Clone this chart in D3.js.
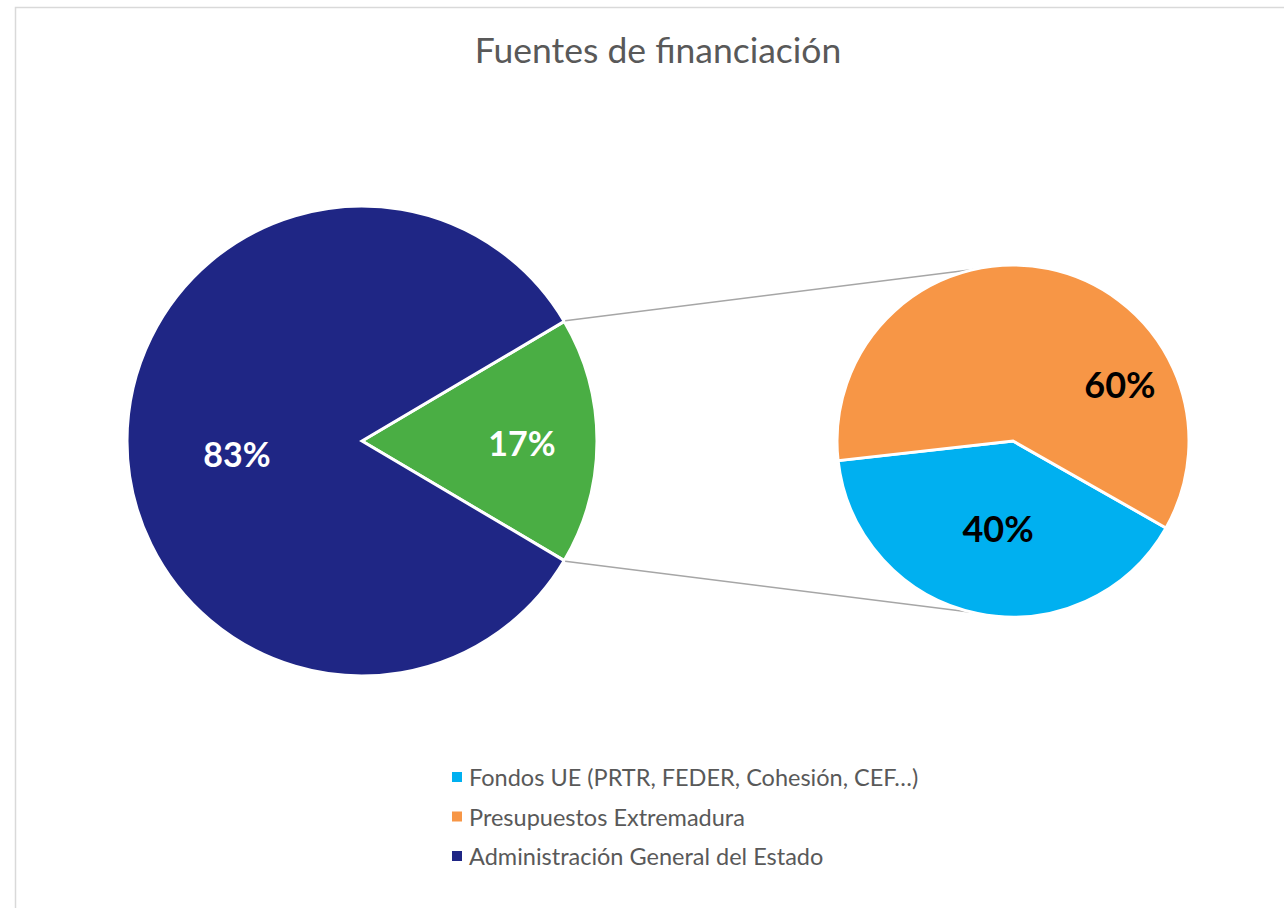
<!DOCTYPE html>
<html>
<head>
<meta charset="utf-8">
<script src="https://cdn.jsdelivr.net/npm/d3@7"></script>
<style>
  body { margin: 0; background: #fff; }
  text { font-family: Lato, "Open Sans", sans-serif; }
</style>
</head>
<body>
<div class="canva"></div>
<script>
// data
const mainLabels = ['Otros', 'Administración General del Estado'];
const mainValues = [17, 83];
const mainColors = ['#4aae44', '#1f2685'];

const subLabels = ['Fondos UE (PRTR, FEDER, Cohesión, CEF…)', 'Presupuestos Extremadura'];
const subValues = [40, 60];
const subColors = ['#00b0f0', '#f79646'];

const legendLabels = ['Fondos UE (PRTR, FEDER, Cohesión, CEF…)', 'Presupuestos Extremadura', 'Administración General del Estado'];
const legendColors = ['#00b0f0', '#f79646', '#1f2685'];

const title = 'Fuentes de financiación';

const width = 1284, height = 908;
const deg = Math.PI / 180;

const svg = d3.select('.canva').append('svg')
    .attr('width', width)
    .attr('height', height);

// chart area border (right/bottom fall outside)
svg.append('rect')
    .attr('x', 15.5).attr('y', 7.5)
    .attr('width', 1400).attr('height', 1000)
    .attr('fill', 'none')
    .attr('stroke', '#d9d9d9')
    .attr('stroke-width', 1.5);

svg.append('text')
    .attr('x', 658).attr('y', 63)
    .attr('text-anchor', 'middle')
    .attr('font-size', 35.5)
    .attr('fill', '#595959')
    .text(title);

// main pie
const main = {cx: 362, cy: 441, r: 235};
const mainTotal = d3.sum(mainValues);
const greenSpan = mainValues[0] / mainTotal * 2 * Math.PI;
const mainPie = d3.pie().sort(null)
    .startAngle(Math.PI / 2 - greenSpan / 2)
    .endAngle(Math.PI / 2 - greenSpan / 2 + 2 * Math.PI);
const mainArcs = mainPie(mainValues);
const mainArc = d3.arc().innerRadius(0).outerRadius(main.r);

const gMain = svg.append('g').attr('transform', `translate(${main.cx}, ${main.cy})`);
gMain.selectAll('path')
    .data(mainArcs)
    .enter().append('path')
    .attr('d', mainArc)
    .attr('fill', (d, i) => mainColors[i])
    .attr('stroke', '#fff')
    .attr('stroke-width', 3)
    .attr('stroke-linejoin', 'miter');

// main labels
const mainLabelPos = [[160, 1], [-125, 12]];
gMain.selectAll('text.lbl')
    .data(mainArcs)
    .enter().append('text')
    .attr('class', 'lbl')
    .attr('x', (d, i) => mainLabelPos[i][0])
    .attr('y', (d, i) => mainLabelPos[i][1])
    .attr('text-anchor', 'middle')
    .attr('dominant-baseline', 'central')
    .attr('font-size', 34)
    .attr('font-weight', 'bold')
    .attr('fill', '#fff')
    .text(d => Math.round(d.value / mainTotal * 100) + '%');

// secondary pie
const sub = {cx: 1013, cy: 441, r: 176};
const subTotal = d3.sum(subValues);
const subStart = 119.6 * deg;
const subPie = d3.pie().sort(null)
    .startAngle(subStart)
    .endAngle(subStart + 2 * Math.PI);
const subArcs = subPie(subValues);
const subArc = d3.arc().innerRadius(0).outerRadius(sub.r);

// connector lines
const a1 = mainArcs[0].startAngle, a2 = mainArcs[0].endAngle;
const ptOn = (c, a, r) => [c.cx + r * Math.sin(a), c.cy - r * Math.cos(a)];
const conn = [
    [ptOn(main, a1, main.r + 1), ptOn(sub, -13 * deg, sub.r)],
    [ptOn(main, a2, main.r + 1), ptOn(sub, 193 * deg, sub.r)]
];
svg.selectAll('line.conn')
    .data(conn)
    .enter().append('line')
    .attr('class', 'conn')
    .attr('x1', d => d[0][0]).attr('y1', d => d[0][1])
    .attr('x2', d => d[1][0]).attr('y2', d => d[1][1])
    .attr('stroke', '#a6a6a6')
    .attr('stroke-width', 1.5);

const gSub = svg.append('g').attr('transform', `translate(${sub.cx}, ${sub.cy})`);
gSub.selectAll('path')
    .data(subArcs)
    .enter().append('path')
    .attr('d', subArc)
    .attr('fill', (d, i) => subColors[i])
    .attr('stroke', '#fff')
    .attr('stroke-width', 3);

const subLabelPos = [[-15, 87], [107, -57]];
gSub.selectAll('text.lbl')
    .data(subArcs)
    .enter().append('text')
    .attr('class', 'lbl')
    .attr('x', (d, i) => subLabelPos[i][0])
    .attr('y', (d, i) => subLabelPos[i][1])
    .attr('text-anchor', 'middle')
    .attr('dominant-baseline', 'central')
    .attr('font-size', 36)
    .attr('font-weight', 'bold')
    .attr('fill', '#000')
    .text(d => Math.round(d.value / subTotal * 100) + '%');

// legend
const legend = svg.append('g').attr('transform', 'translate(452, 777)');
const items = legend.selectAll('g')
    .data(legendLabels)
    .enter().append('g')
    .attr('transform', (d, i) => `translate(0, ${i * 39.5})`);
items.append('rect')
    .attr('x', 0).attr('y', -5)
    .attr('width', 10).attr('height', 10)
    .attr('fill', (d, i) => legendColors[i]);
items.append('text')
    .attr('x', 17).attr('y', 0)
    .attr('dominant-baseline', 'central')
    .attr('font-size', 23.5)
    .attr('fill', '#595959')
    .text(d => d);
</script>
</body>
</html>
